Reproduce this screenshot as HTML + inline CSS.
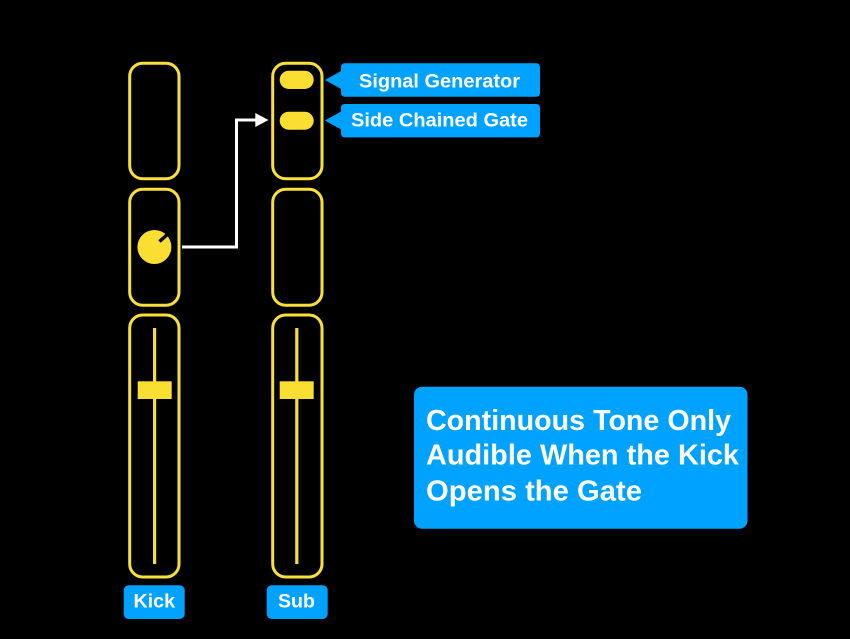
<!DOCTYPE html>
<html>
<head>
<meta charset="utf-8">
<style>
html,body{margin:0;padding:0;background:#000;width:850px;height:639px;overflow:hidden}
svg{display:block}
text{font-family:"Liberation Sans",sans-serif;font-weight:700;fill:#fff}
</style>
</head>
<body>
<svg width="850" height="639" viewBox="0 0 850 639" xmlns="http://www.w3.org/2000/svg">
<rect width="850" height="639" fill="#000"/>
<g fill="none" stroke="#F8DF3C" stroke-width="3">
<rect x="129.7" y="63.3" width="49.3" height="115.4" rx="13"/>
<rect x="129.7" y="189.3" width="49.3" height="116" rx="13"/>
<rect x="129.7" y="315" width="49.3" height="262" rx="13"/>
<rect x="272.7" y="63.3" width="49.3" height="115.4" rx="13"/>
<rect x="272.7" y="189.3" width="49.3" height="116" rx="13"/>
<rect x="272.7" y="315" width="49.3" height="262" rx="13"/>
</g>
<g fill="#FADF32">
<rect x="279.7" y="70.7" width="34" height="18.3" rx="9.1"/>
<rect x="279.7" y="111.7" width="34" height="18" rx="9"/>
<circle cx="154.4" cy="247" r="17"/>
<rect x="153" y="328" width="3.2" height="236"/>
<rect x="295.2" y="328" width="3.2" height="236"/>
<rect x="137.7" y="381.3" width="34" height="17.7"/>
<rect x="279.7" y="381.3" width="34" height="17.7"/>
</g>
<line x1="159.5" y1="241.5" x2="169" y2="233" stroke="#000" stroke-width="3.5"/>
<path d="M182 247H236.5V120H257" fill="none" stroke="#fff" stroke-width="3"/>
<path d="M255.3 113L268.5 120L255.3 127Z" fill="#fff"/>
<g fill="#00A2FF">
<rect x="341" y="63.3" width="199" height="33.4" rx="3.5"/>
<path d="M342 70.5L325 80L342 89.5Z"/>
<rect x="341" y="104" width="199" height="33.4" rx="3.5"/>
<path d="M342 111L325 120.5L342 130Z"/>
<rect x="123.7" y="585.3" width="61" height="33.7" rx="5"/>
<rect x="266.7" y="585.3" width="61" height="33.7" rx="5"/>
<rect x="414" y="386.7" width="333.5" height="142" rx="8"/>
</g>
<text x="359" y="87.5" font-size="19.5" textLength="161" lengthAdjust="spacingAndGlyphs">Signal Generator</text>
<text x="351" y="126.5" font-size="19.5" textLength="177" lengthAdjust="spacingAndGlyphs">Side Chained Gate</text>
<text x="133.5" y="607.5" font-size="19.5" textLength="41.5" lengthAdjust="spacingAndGlyphs">Kick</text>
<text x="278" y="607.5" font-size="19.5" textLength="37" lengthAdjust="spacingAndGlyphs">Sub</text>
<text x="426" y="430" font-size="29" textLength="305" lengthAdjust="spacingAndGlyphs">Continuous Tone Only</text>
<text x="426" y="464.5" font-size="29" textLength="313" lengthAdjust="spacingAndGlyphs">Audible When the Kick</text>
<text x="426" y="500.5" font-size="29" textLength="216" lengthAdjust="spacingAndGlyphs">Opens the Gate</text>
</svg>
</body>
</html>
